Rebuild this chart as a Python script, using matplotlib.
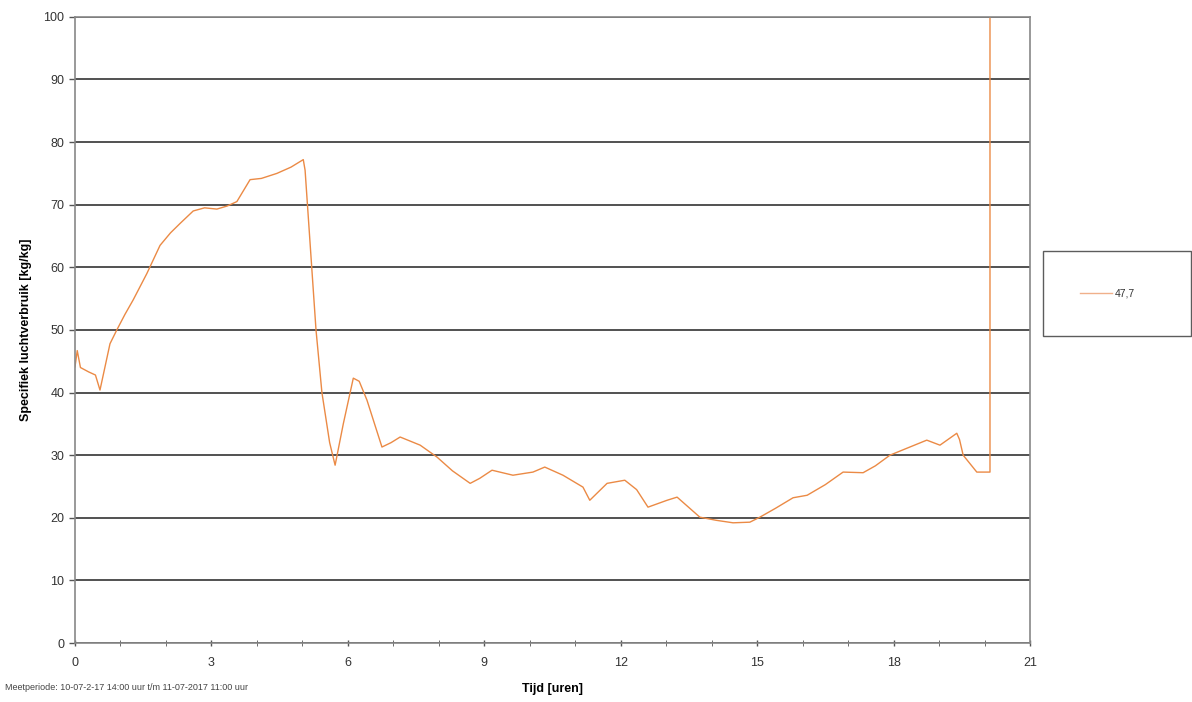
import matplotlib
matplotlib.use("Agg")
import matplotlib.pyplot as plt
from matplotlib.ticker import MultipleLocator

plt.rcParams['font.family'] = ['Liberation Sans', 'DejaVu Sans']

# tijd [uren] en specifiek luchtverbruik [kg/kg]
tijd = [0.0, 0.05, 0.12, 0.3, 0.45, 0.55, 0.77, 0.92, 1.1, 1.28, 1.58, 1.87, 2.1, 2.31,
        2.6, 2.85, 3.12, 3.35, 3.56, 3.85, 4.1, 4.44, 4.75, 5.02, 5.06, 5.3, 5.43, 5.6,
        5.72, 5.9, 6.12, 6.25, 6.42, 6.75, 6.95, 7.15, 7.59, 7.96, 8.3, 8.69, 8.9, 9.17,
        9.63, 10.07, 10.33, 10.73, 11.17, 11.32, 11.7, 12.09, 12.35, 12.6, 13.02, 13.24,
        13.74, 14.1, 14.47, 14.84, 15.06, 15.4, 15.79, 16.1, 16.5, 16.89, 17.33, 17.6,
        17.92, 18.29, 18.73, 19.02, 19.39, 19.45, 19.53, 19.83, 20.12, 20.12]
waarde = [44.1, 46.7, 44.0, 43.3, 42.8, 40.4, 47.8, 50.0, 52.5, 54.8, 59.0, 63.5, 65.5,
          67.0, 69.0, 69.5, 69.3, 69.8, 70.5, 74.0, 74.2, 75.0, 76.0, 77.2, 75.5, 50.0,
          40.0, 32.0, 28.4, 35.0, 42.3, 41.8, 38.8, 31.3, 32.0, 32.9, 31.6, 29.7, 27.5,
          25.5, 26.3, 27.6, 26.8, 27.3, 28.1, 26.8, 24.9, 22.8, 25.5, 26.0, 24.5, 21.7,
          22.8, 23.3, 20.1, 19.6, 19.2, 19.3, 20.1, 21.5, 23.2, 23.6, 25.3, 27.3, 27.2,
          28.3, 30.0, 31.1, 32.4, 31.6, 33.5, 32.5, 30.0, 27.3, 27.3, 100.0]

legend_label = "47,7"

fig = plt.figure(figsize=(11.92, 7.02), dpi=100)
ax = fig.add_axes([0.0629, 0.084, 0.8012, 0.892])

ax.plot(tijd, waarde, color="#EB8A45", linewidth=1.0, label=legend_label)

ax.set_xlim(0, 21)
ax.set_ylim(0, 100)
ax.xaxis.set_major_locator(MultipleLocator(3))
ax.xaxis.set_minor_locator(MultipleLocator(1))
ax.yaxis.set_major_locator(MultipleLocator(10))

ax.grid(axis="y", color="#333333", linewidth=1.2)
ax.set_axisbelow(True)
for s in ax.spines.values():
    s.set_color("#888888")
    s.set_linewidth(1.2)

ax.tick_params(axis="both", labelsize=9, colors="#555555", labelcolor="#333333",
               length=4, width=1)
ax.tick_params(axis="x", which="both", direction="inout", pad=8)
ax.tick_params(axis="x", which="minor", length=4, colors="#555555")

ax.set_xlabel("Tijd [uren]", fontsize=9, fontweight="bold", labelpad=10)
ax.set_ylabel("Specifiek luchtverbruik [kg/kg]", fontsize=9, fontweight="bold", labelpad=8)

fig.text(0.004, 0.017, "Meetperiode: 10-07-2-17 14:00 uur t/m 11-07-2017 11:00 uur",
         fontsize=6.5, color="#444444")

leg = ax.legend(loc="center left", bbox_to_anchor=(1.0136, 0.558, 0.155, 0.0),
                mode="expand", frameon=True, fancybox=False, fontsize=7.5,
                handlelength=3.0, borderpad=3.6, handletextpad=0.3, borderaxespad=0)
leg.get_frame().set_edgecolor("#333333")
leg.get_frame().set_linewidth(1.0)
leg.get_lines()[0].set_color("#F0B08A")
for t in leg.get_texts():
    t.set_color("#333333")

fig.savefig("out.png", dpi=100)
